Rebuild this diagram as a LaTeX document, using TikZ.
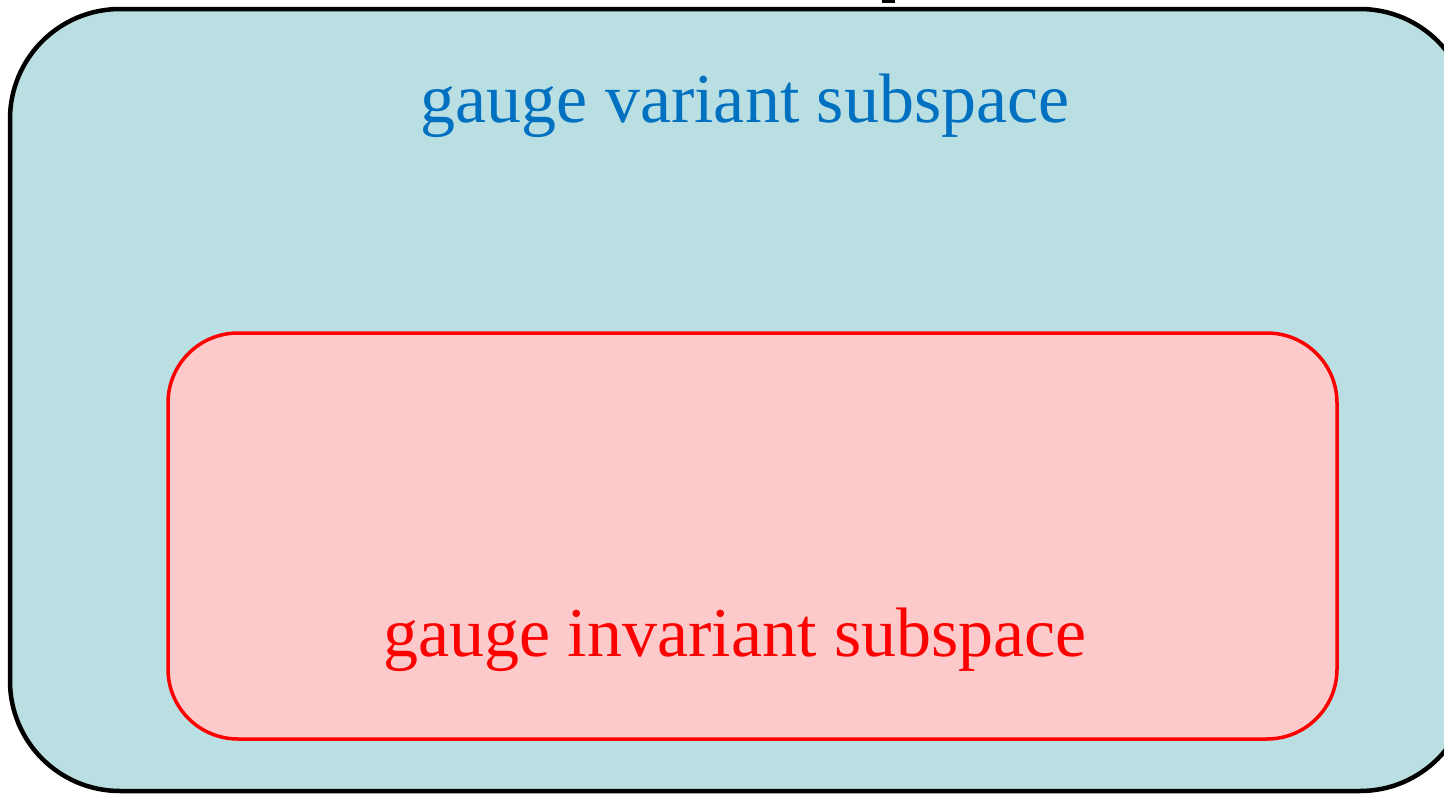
\documentclass[tikz,border=0pt]{standalone}
\usepackage{fontspec}
\setmainfont{Liberation Serif}
\definecolor{outerfill}{HTML}{B9DFE3}
\definecolor{innerfill}{HTML}{FCCACA}
\definecolor{bluetext}{HTML}{0070C0}
\definecolor{redtext}{HTML}{FF0000}
\tikzset{
  outerbox/.style={draw=black, fill=outerfill, line width=4.5pt, rounded corners=110pt},
  innerbox/.style={draw=redtext, fill=innerfill, line width=3.5pt, rounded corners=70pt},
  lbl/.style={font=\fontsize{70}{84}\selectfont, inner sep=0pt}
}
\begin{document}
\begin{tikzpicture}[x=1pt,y=-1pt]
\useasboundingbox (0,0) rectangle (1444,793);
\clip (0,0) rectangle (1444,793);
\fill[black] (882,0) rectangle (895,3);
\draw[outerbox] (10,9) rectangle (1470,791);
\draw[innerbox] (168,333) rectangle (1337,739);
\node[lbl, text=bluetext, anchor=base] (top) at (745,122) {gauge variant subspace};
\node[lbl, text=redtext, anchor=base] (bot) at (735,656) {gauge invariant subspace};
\end{tikzpicture}
\end{document}
